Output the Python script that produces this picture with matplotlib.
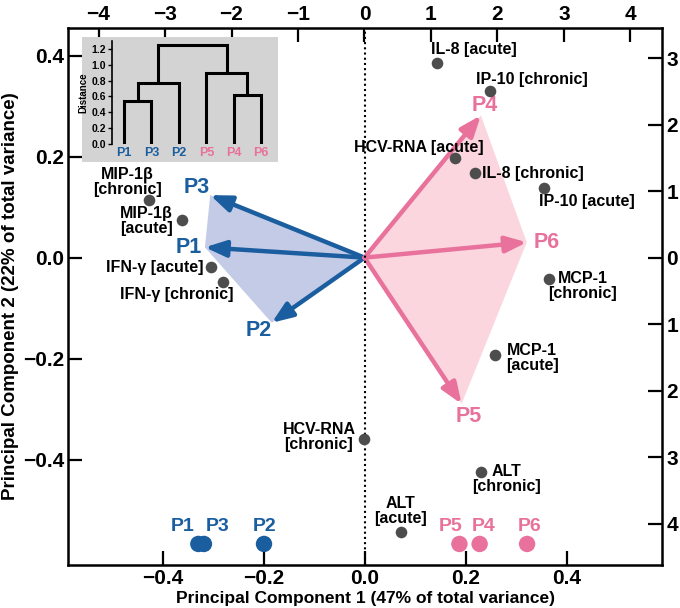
import matplotlib
matplotlib.use("Agg")
import matplotlib.pyplot as plt
from matplotlib.ticker import FuncFormatter, FixedLocator

# ---------------- data ----------------
# variable loadings (PC1, PC2)
var_names = ["IL-8 [acute]", "IP-10 [chronic]", "HCV-RNA [acute]", "IL-8 [chronic]",
             "IP-10 [acute]", "MIP-1\u03b2\n[chronic]", "MIP-1\u03b2\n[acute]",
             "IFN-\u03b3 [acute]", "IFN-\u03b3 [chronic]", "MCP-1\n[chronic]",
             "MCP-1\n[acute]", "HCV-RNA\n[chronic]", "ALT\n[chronic]", "ALT\n[acute]"]
var_pc1 = [0.143, 0.248, 0.178, 0.218, 0.355, -0.427, -0.363, -0.304, -0.282,
           0.364, 0.258, -0.002, 0.230, 0.071]
var_pc2 = [0.386, 0.329, 0.197, 0.167, 0.138, 0.115, 0.074, -0.019, -0.048,
           -0.043, -0.193, -0.360, -0.424, -0.544]

# patient scores (top / right axes)
patients = ["P1", "P2", "P3", "P4", "P5", "P6"]
pat_s1 = [-2.40, -1.395, -2.32, 1.75, 1.46, 2.44]
pat_s2 = [0.155, -0.98, 0.94, 2.14, -2.20, 0.23]
pat_group = ["blue", "blue", "blue", "pink", "pink", "pink"]
hull_blue = ["P3", "P1", "P2"]
hull_pink = ["P4", "P6", "P5"]

# patient PC1 strip (bottom)
strip_names = ["P1", "P3", "P2", "P5", "P4", "P6"]
strip_pc1 = [-0.330, -0.319, -0.200, 0.187, 0.227, 0.321]
strip_group = ["blue", "blue", "blue", "pink", "pink", "pink"]

# dendrogram
dendro_leaves = ["P1", "P3", "P2", "P5", "P4", "P6"]
dendro_leaf_group = ["blue", "blue", "blue", "pink", "pink", "pink"]
# linkage rows: (child a, child b, height); ids >= 6 are earlier merges
dendro_links = [(0, 1, 0.54), (4, 5, 0.62), (6, 2, 0.775), (3, 7, 0.89), (8, 9, 1.25)]

xticks_bottom = [-0.4, -0.2, 0.0, 0.2, 0.4]
yticks_left = [-0.4, -0.2, 0.0, 0.2, 0.4]
xticks_top = [-4, -3, -2, -1, 0, 1, 2, 3, 4]
yticks_right = [-4, -3, -2, -1, 0, 1, 2, 3]

# ---------------- style ----------------
BLUE = "#1b5e9f"
PINK = "#e8729b"
BLUE_FILL = "#c4cbe7"
PINK_FILL = "#fbd6df"
DOT = "#4d4d4d"
COL = {"blue": BLUE, "pink": PINK}

plt.rcParams["font.family"] = ["Liberation Sans", "DejaVu Sans"]
plt.rcParams["font.weight"] = "bold"
plt.rcParams["axes.unicode_minus"] = True

fig = plt.figure(figsize=(6.8, 6.08), dpi=100)
rect = [0.1006, 0.0707, 0.8729, 0.8832]
axs = fig.add_axes(rect)   # score axes (top/right)
ax = fig.add_axes(rect)    # loading axes (bottom/left)
axs.set_zorder(1)
ax.set_zorder(2)
ax.patch.set_visible(False)

TICK_FS = 15

# --- loading axes
ax.set_xlim(-0.5873, 0.5881)
ax.set_ylim(-0.6087, 0.4546)
for sp in ax.spines.values():
    sp.set_linewidth(1.8)
ax.tick_params(direction="in", length=10, width=1.6, top=False, right=False,
               labelsize=TICK_FS, pad=3)
ax.xaxis.set_major_locator(FixedLocator(xticks_bottom))
ax.yaxis.set_major_locator(FixedLocator(yticks_left))
ax.xaxis.set_major_formatter(FuncFormatter(lambda v, p: f"{v:.1f}".replace("-", "\u2212")))
ax.yaxis.set_major_formatter(FuncFormatter(lambda v, p: f"{v:.1f}".replace("-", "\u2212")))
ax.set_xlabel("Principal Component 1 (47% of total variance)",
              fontsize=12.5, fontweight="bold", labelpad=2)
ax.set_ylabel("Principal Component 2 (22% of total variance)",
              fontsize=13.5, fontweight="bold", labelpad=3)

ax.axvline(0, color="black", ls=(0, (1, 1.5)), lw=1.5, zorder=1)

ax.scatter(var_pc1, var_pc2, s=70, color=DOT, zorder=5, linewidths=0)
# label offsets (pixels, +y downward) and alignment
lab_style = [
    ((37, -13), "center"), ((-14, -12), "left"), ((-36, -11), "center"),
    ((7, 0), "left"), ((-5, 14), "left"), ((-22, -18), "center"),
    ((-35, 1), "center"), ((-8, 0), "right"), ((11, 13), "right"),
    ((34, 7), "center"), ((37, 3), "center"), ((-45, -2), "center"),
    ((25, 7), "center"), ((0, -21), "center"),
]
for name, x, y, (off, ha) in zip(var_names, var_pc1, var_pc2, lab_style):
    ax.annotate(name, (x, y), xytext=(off[0], -off[1]), textcoords="offset pixels",
                ha=ha, va="center", fontsize=11.5, fontweight="bold",
                linespacing=1.0, zorder=6)

STRIP_Y = -0.567
ax.scatter(strip_pc1, [STRIP_Y] * len(strip_pc1), s=140,
           color=[COL[g] for g in strip_group], zorder=5, linewidths=0)
strip_off = [-16, 14, 1, -9, 4, 3]
for name, x, g, o in zip(strip_names, strip_pc1, strip_group, strip_off):
    ax.annotate(name, (x, STRIP_Y), xytext=(o, 17), textcoords="offset pixels",
                ha="center", va="center", fontsize=14, fontweight="bold",
                color=COL[g], zorder=6)

# --- score axes
axs.set_xlim(-4.453, 4.474)
axs.set_ylim(-4.623, 3.453)
for sp in axs.spines.values():
    sp.set_visible(False)
axs.xaxis.tick_top()
axs.yaxis.tick_right()
axs.tick_params(direction="in", length=10, width=1.6, labelsize=TICK_FS, pad=3)
axs.xaxis.set_major_locator(FixedLocator(xticks_top))
axs.yaxis.set_major_locator(FixedLocator(yticks_right))
axs.xaxis.set_major_formatter(FuncFormatter(lambda v, p: f"{v:.0f}".replace("-", "\u2212")))
axs.yaxis.set_major_formatter(FuncFormatter(lambda v, p: f"{abs(v):.0f}"))

for hull, fill in ((hull_blue, BLUE_FILL), (hull_pink, PINK_FILL)):
    xs = [0] + [pat_s1[patients.index(p)] for p in hull]
    ys = [0] + [pat_s2[patients.index(p)] for p in hull]
    axs.fill(xs, ys, color=fill, lw=0, zorder=1)

pat_lab_off = {"P1": (-16, 0), "P2": (-13, 8), "P3": (-14, -8),
               "P4": (4, -10), "P5": (7, 13), "P6": (20, 0)}
for name, x, y, g in zip(patients, pat_s1, pat_s2, pat_group):
    axs.annotate("", xy=(x, y), xytext=(0, 0),
                 arrowprops=dict(arrowstyle="-|>,head_length=0.9,head_width=0.35",
                                 color=COL[g], lw=3.2, shrinkA=0, shrinkB=0,
                                 mutation_scale=14), zorder=3)
    o = pat_lab_off[name]
    axs.annotate(name, (x, y), xytext=(o[0], -o[1]), textcoords="offset pixels",
                 ha="center", va="center", fontsize=15.5, fontweight="bold",
                 color=COL[g], zorder=4)

# --- inset dendrogram
bg = fig.add_axes([0.1206, 0.7336, 0.288, 0.2056])
bg.set_zorder(3)
bg.set_facecolor("#d3d3d3")
bg.set_xticks([]); bg.set_yticks([])
for sp in bg.spines.values():
    sp.set_visible(False)

dax = fig.add_axes([0.1643, 0.7632, 0.240, 0.1694])
dax.set_zorder(4)
dax.patch.set_visible(False)
n = len(dendro_leaves)
pos = {i: float(i) for i in range(n)}
hgt = {i: 0.0 for i in range(n)}
for k, (a, b, h) in enumerate(dendro_links):
    xa, xb = pos[a], pos[b]
    dax.plot([xa, xa, xb, xb], [hgt[a], h, h, hgt[b]], color="black", lw=2.2,
             solid_joinstyle="miter", solid_capstyle="butt")
    pos[n + k] = (xa + xb) / 2
    hgt[n + k] = h
dax.set_xlim(-0.45, 5.5)
dax.set_ylim(0, 1.3)
for s in ("top", "right", "bottom"):
    dax.spines[s].set_visible(False)
dax.spines["left"].set_linewidth(1.2)
dax.set_yticks([0.0, 0.2, 0.4, 0.6, 0.8, 1.0, 1.2])
dax.yaxis.set_major_formatter(FuncFormatter(lambda v, p: f"{v:.1f}"))
dax.tick_params(axis="y", direction="out", length=3, width=1, labelsize=7.5, pad=1)
dax.set_xticks(range(n))
dax.set_xticklabels(dendro_leaves, fontsize=9, fontweight="bold")
for lab, g in zip(dax.get_xticklabels(), dendro_leaf_group):
    lab.set_color(COL[g])
dax.tick_params(axis="x", length=0, pad=2)
dax.set_ylabel("Distance", fontsize=7, fontweight="bold", labelpad=2)

fig.savefig("out.png", dpi=100)
